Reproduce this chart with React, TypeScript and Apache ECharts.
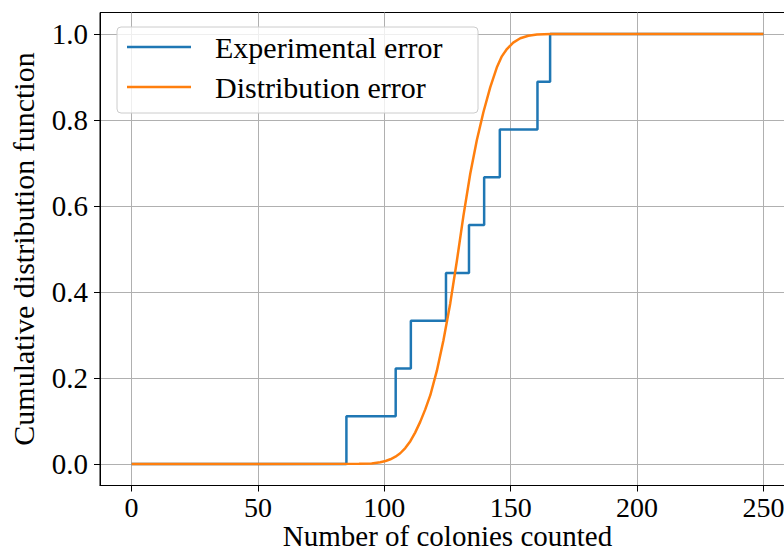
import React, { useEffect, useRef } from "react";
import * as echarts from "echarts";

const xTicks = [0, 50, 100, 150, 200, 250];
const yTicks = [0, 0.2, 0.4, 0.6, 0.8, 1.0];

// sorted colony counts of the experiment (ECDF steps)
const experimentalSamples = [85, 104.5, 110.5, 124.4, 133.5, 139.5, 145.7, 160.6, 165.6];
const experimentalLevels = [1 / 9, 2 / 9, 3 / 9, 4 / 9, 5 / 9, 6 / 9, 7 / 9, 8 / 9, 1];

// distribution CDF
const distX = [0, 50, 90, 95, 98.4, 100.5, 102.4, 104.4, 106.3, 108.3, 110.3, 112.2, 114.2, 116.2, 118.2, 120.8, 123.4, 126.1, 128.7, 131.3, 134.0, 136.6, 139.2, 141.9, 144.5, 146.5, 148.5, 151, 153.8, 157, 160.4, 166, 200, 250];
const distY = [0, 0, 0.0003, 0.001, 0.004, 0.007, 0.011, 0.017, 0.025, 0.037, 0.053, 0.073, 0.098, 0.127, 0.16, 0.217, 0.288, 0.374, 0.472, 0.577, 0.675, 0.753, 0.818, 0.876, 0.922, 0.948, 0.965, 0.98, 0.99, 0.996, 0.999, 1, 1, 1];

const FONT = "Liberation Serif";

export default function App() {
  const ref = useRef<HTMLDivElement>(null);
  useEffect(() => {
    const chart = echarts.init(ref.current!, null, { renderer: "svg" });
    const expData: number[][] = [[0, 0]];
    experimentalSamples.forEach((s, i) => expData.push([s, experimentalLevels[i]]));
    expData.push([250, 1]);
    const distData = distX.map((x, i) => [x, distY[i]]);
    chart.setOption({
      animation: false,
      backgroundColor: "#ffffff",
      textStyle: { fontFamily: FONT },
      grid: {
        left: 100,
        right: -11,
        top: 12.5,
        bottom: 67.5,
        containLabel: false,
        outerBoundsMode: "none",
        show: true,
        borderColor: "#000",
        borderWidth: 1,
        backgroundColor: "transparent",
      },
      legend: {
        left: 117,
        top: 27,
        orient: "vertical",
        itemWidth: 64,
        itemHeight: 2.5,
        itemGap: 10,
        padding: [5, 15, 11, 10],
        backgroundColor: "rgba(255,255,255,0.8)",
        borderColor: "#cccccc",
        borderWidth: 1,
        borderRadius: 4,
        textStyle: {
          fontFamily: FONT,
          fontSize: 30,
          color: "#000",
          lineHeight: 30,
          width: 248,
          padding: [0, 0, 0, 19],
        },
        data: [
          { name: "Experimental error", icon: "rect" },
          { name: "Distribution error", icon: "rect" },
        ],
      },
      xAxis: {
        type: "value",
        min: -12.5,
        max: 262.5,
        name: "Number of colonies counted",
        nameLocation: "middle",
        nameGap: 36,
        nameMoveOverlap: false,
        nameTextStyle: { fontFamily: FONT, fontSize: 29, color: "#000" },
        axisLine: { show: true, onZero: false, lineStyle: { color: "#000", width: 1 } },
        axisTick: { show: true, length: 6, customValues: xTicks, lineStyle: { color: "#000", width: 1 } },
        axisLabel: {
          customValues: xTicks,
          margin: 8,
          fontFamily: FONT,
          fontSize: 28,
          color: "#000",
          formatter: (v: number) => String(v),
        },
        splitLine: { show: true, lineStyle: { color: "#b0b0b0", width: 1 } },
      },
      yAxis: {
        type: "value",
        min: -0.05,
        max: 1.05,
        name: "Cumulative distribution function",
        nameLocation: "middle",
        nameRotate: 90,
        nameGap: 62,
        nameMoveOverlap: false,
        nameTextStyle: { fontFamily: FONT, fontSize: 30, color: "#000" },
        axisLine: { show: true, onZero: false, lineStyle: { color: "#000", width: 1 } },
        axisTick: { show: true, length: 6, customValues: yTicks, lineStyle: { color: "#000", width: 1 } },
        axisLabel: {
          customValues: yTicks,
          margin: 12,
          fontFamily: FONT,
          fontSize: 29,
          color: "#000",
          formatter: (v: number) => v.toFixed(1),
        },
        splitLine: { show: true, lineStyle: { color: "#b0b0b0", width: 1 } },
      },
      series: [
        {
          name: "Experimental error",
          type: "line",
          step: "end",
          data: expData,
          showSymbol: false,
          symbol: "none",
          itemStyle: { color: "#1f77b4" },
          lineStyle: { color: "#1f77b4", width: 2.5 },
        },
        {
          name: "Distribution error",
          type: "line",
          data: distData,
          smooth: false,
          showSymbol: false,
          symbol: "none",
          itemStyle: { color: "#ff7f0e" },
          lineStyle: { color: "#ff7f0e", width: 2.5, join: "round" },
        },
      ],
    });
    return () => chart.dispose();
  }, []);
  return (
    <div
      ref={ref}
      style={{ position: "fixed", left: 0, top: 0, width: 784, height: 553, background: "#fff" }}
    />
  );
}
